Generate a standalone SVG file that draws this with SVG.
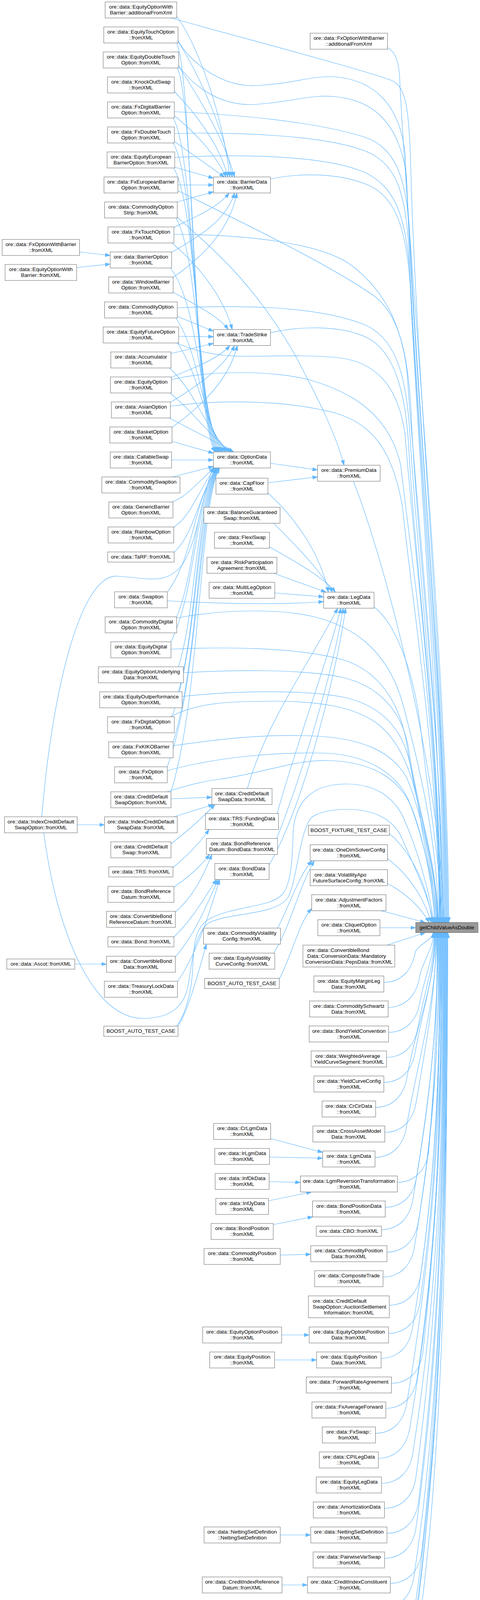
<svg xmlns="http://www.w3.org/2000/svg" width="1228" height="4419" viewBox="0 0 1228 4419">
<defs>
<style>
.n rect{fill:#fff;stroke:#666;stroke-width:1}
.m rect{fill:#999;stroke:#666;stroke-width:1}
.n text,.m text{font-family:"Liberation Sans",Arial,Helvetica,sans-serif;font-size:13.33px;fill:#000;text-anchor:middle}
.n text.l{text-anchor:start}
.e path{fill:none;stroke:#63b8ff;stroke-width:1.2;marker-end:url(#ah)}
</style>
<marker id="ah" markerUnits="userSpaceOnUse" markerWidth="14" markerHeight="10" refX="13" refY="5" orient="auto"><path d="M0,0.5 L13,5 L0,9.5 z" fill="#63b8ff" stroke="#63b8ff" stroke-width="1"/></marker>
</defs>
<rect x="0" y="0" width="1228" height="4419" fill="#fff"/>
<g id="edges" class="e">
<path d="M203.5,645 L282,654"/>
<path d="M196,685 L282,676"/>
<path d="M197.5,2111.5 L267.5,2111.5"/>
<path d="M191.5,2468 L272.5,2468"/>
<path d="M107,2091 C130,1800 200,1470 300,1475 C380,1480 430,1500 470,1440 C505,1385 518,1260 546,1196"/>
<path d="M112,2132 C150,2420 250,2607 364,2607 C440,2607 472,2575 482,2520 C490,2470 495,2400 530,2365 C580,2335 700,2345 735,2300 C760,2265 765,2120 800,2090 C830,2074 860,2072 890,2072 C960,2072 1010,2100 1030,2150 C1060,2220 1100,2300 1108,2361.5"/>
<path d="M452,2627 C475,2595 490,2540 493,2480 C496,2410 500,2370 540,2350 C600,2320 690,2322 720,2292 C745,2268 748,2200 750,2130 C755,2050 800,2007 885,2007 C960,2007 1010,2040 1035,2100 C1070,2180 1100,2290 1110,2361.5"/>
<path d="M455.5,2627 C480,2590 505,2500 528,2417"/>
<path d="M452,42 C510,120 570,300 588,453"/>
<path d="M455.5,106 C515,200 575,340 594,453"/>
<path d="M457,170 C510,250 575,360 600,453"/>
<path d="M446,234 C510,300 565,380 583,453"/>
<path d="M446,296 C500,340 555,400 578,453"/>
<path d="M446,362 L574,453"/>
<path d="M447,428 L546,456"/>
<path d="M455,473.5 L546,473.5"/>
<path d="M453.5,517 L546,491"/>
<path d="M445,582 C500,555 560,530 586,494"/>
<path d="M439,646 C520,600 580,560 600,494"/>
<path d="M443,710 C530,650 590,580 606,494"/>
<path d="M440,622 C520,690 575,770 594,843.5"/>
<path d="M443,748 C500,780 560,810 584,843.5"/>
<path d="M453.5,810 L546,848"/>
<path d="M457,861 L546,862"/>
<path d="M437.5,905 L546,879"/>
<path d="M438.5,966 C500,940 560,918 588,884.5"/>
<path d="M436,1030 C520,980 580,930 600,884.5"/>
<path d="M440,1094 C530,1030 590,960 607,884.5"/>
<path d="M452,110 C495,210 490,1050 550,1157"/>
<path d="M454,174 C498,274 493,1052 553,1157"/>
<path d="M443,302 C501,402 496,1054 556,1157"/>
<path d="M443,366 C504,466 499,1056 559,1157"/>
<path d="M444,430 C507,530 502,1058 562,1157"/>
<path d="M450,558 C510,658 505,1060 566,1157"/>
<path d="M436,686 C513,786 508,1064 570,1157"/>
<path d="M450,814 C516,914 511,1068 575,1157"/>
<path d="M454,878 C519,978 515,1075 580,1157"/>
<path d="M434,942 C505,1010 520,1090 586,1157"/>
<path d="M435,1006 C500,1060 530,1110 592,1157"/>
<path d="M433,1070 C490,1100 540,1125 598,1157"/>
<path d="M440,1130 L546,1160"/>
<path d="M439,1177.5 L546,1177.5"/>
<path d="M441,1221 L546,1194"/>
<path d="M440,1285 C480,1270 500,1240 548,1198"/>
<path d="M444,1350 C490,1320 505,1260 550,1198"/>
<path d="M445,1414 C495,1370 505,1280 552,1198"/>
<path d="M428,1516 C498,1420 493,1290 554,1198"/>
<path d="M452,1579 C500,1465 495,1290 555,1198"/>
<path d="M437.5,1643 C502,1509 497,1290 556,1198"/>
<path d="M456.5,1707 C504,1554 499,1290 557,1198"/>
<path d="M456.5,1771 C506,1599 501,1290 558,1198"/>
<path d="M440,1835 C508,1644 503,1290 559,1198"/>
<path d="M443,1899 C510,1689 505,1290 560,1198"/>
<path d="M428,1963 C512,1733 507,1290 561,1198"/>
<path d="M437.5,2027 C514,1778 509,1290 562,1198"/>
<path d="M692,1186 L812.5,1203"/>
<path d="M685.5,1236 L812.5,1221"/>
<path d="M453.5,556 C560,650 650,730 750,900 C820,1030 862,1120 880,1191"/>
<path d="M685.5,1262 C760,1330 820,1420 840,1516"/>
<path d="M700,1339.5 C760,1400 820,1460 850,1516"/>
<path d="M689.5,1400 C760,1440 830,1480 858,1516"/>
<path d="M700,1467.5 L834,1516"/>
<path d="M703,1518 L828,1528"/>
<path d="M428,1538 C600,1548 750,1547 828,1540"/>
<path d="M633,2018.5 C680,1850 790,1700 864,1557"/>
<path d="M709,2082.5 C760,1900 835,1700 872,1557"/>
<path d="M708,2146.5 C785,1950 855,1700 878,1557"/>
<path d="M688.5,2214 C780,2060 865,1700 884,1557"/>
<path d="M437.5,2045 L542,2041"/>
<path d="M445,2091 L546,2059.5"/>
<path d="M437.5,2160 C490,2120 520,2090 550,2059.5"/>
<path d="M442.5,2221 C480,2190 510,2160 535,2123.5"/>
<path d="M445,2271 C490,2240 518,2212 536,2187.5"/>
<path d="M448.5,2335 C500,2290 525,2230 542,2187.5"/>
<path d="M445,2399 C495,2350 528,2290 554,2251.5"/>
<path d="M448.5,2450 C500,2390 532,2310 558,2251.5"/>
<path d="M454,2513 C505,2440 538,2330 562,2251.5"/>
<path d="M710,2376 C740,2320 765,2240 798,2203.5"/>
<path d="M700,2440 C740,2380 765,2270 804,2203.5"/>
<path d="M714.5,2506 C745,2450 765,2360 797.5,2326"/>
<path d="M692.5,2915 L825.5,2950"/>
<path d="M689.5,2962 L825.5,2965"/>
<path d="M688.5,3025 L768.5,3027"/>
<path d="M687,3074 L797,3051.5"/>
<path d="M699,3135 L800,3115"/>
<path d="M717,3213 L795,3211"/>
<path d="M720.5,3417.5 L791,3417.5"/>
<path d="M702.5,3481.5 L810,3481.5"/>
<path d="M717,3929.5 L795,3929.5"/>
<path d="M721.5,4057.5 L786.5,4057.5"/>
<path d="M438,46 C600,92 900,170 1000,205 C1035,220 1045,260 1050,400 C1065,1000 1144,1800 1146,2361.5"/>
<path d="M991.5,122 C1008,130 1018,150 1022,190 C1040,600 1146,1700 1148,2361.5"/>
<path d="M455.5,104 C480,150 560,225 658,219 C760,213 800,192 861,197 C960,207 1025,270 1037,400 C1060,1000 1142,1800 1144,2361.5"/>
<path d="M457,168 C490,215 560,275 658,267 C760,259 800,240 861,248 C960,258 1022,320 1040,450 C1062,1000 1140,1800 1142,2361.5"/>
<path d="M446,286 C600,293 800,310 930,350 C1010,376 1040,450 1048,600 C1066,1000 1138,1800 1140,2361.5"/>
<path d="M446,342 C600,338 820,345 930,385 C1008,414 1038,480 1046,640 C1064,1050 1136,1800 1138,2361.5"/>
<path d="M447,403 C600,395 820,395 930,440 C1015,478 1040,560 1050,720 C1066,1100 1134,1850 1136,2361.5"/>
<path d="M455,488 C600,560 850,680 960,760 C1025,810 1045,920 1052,1060 C1066,1400 1132,1900 1134,2361.5"/>
<path d="M445,600 C620,600 820,620 900,680 C975,738 1028,820 1042,960 C1060,1250 1130,1850 1132,2361.5"/>
<path d="M692,458 C760,444 860,440 940,473 C1010,502 1040,580 1050,740 C1065,1100 1128,1850 1130,2361.5"/>
<path d="M453.5,788 C600,782 800,780 930,830 C1008,862 1038,950 1048,1100 C1064,1400 1126,1900 1128,2361.5"/>
<path d="M692,852 C760,836 870,830 940,865 C1008,900 1038,1000 1046,1150 C1062,1450 1125,1900 1127,2361.5"/>
<path d="M452,878 C500,900 560,912 626,912 C720,912 780,908 860,915 C960,925 1018,985 1036,1110 C1058,1400 1124,1900 1126,2361.5"/>
<path d="M438.5,972 C520,950 700,945 800,975 C900,1005 995,1060 1025,1190 C1055,1450 1123,1900 1125,2361.5"/>
<path d="M436,1040 C540,1025 720,1020 860,1058 C950,1085 1005,1150 1030,1300 C1055,1550 1122,1950 1124,2361.5"/>
<path d="M452,1582 C560,1562 700,1556 800,1578 C900,1602 990,1660 1030,1800 C1070,1950 1120,2150 1122,2361.5"/>
<path d="M437.5,1662 C560,1656 760,1655 880,1690 C970,1718 1022,1800 1040,1900 C1062,2050 1119,2200 1121,2361.5"/>
<path d="M469.5,1722 C600,1715 780,1712 880,1735 C970,1758 1030,1820 1046,1920 C1068,2070 1118,2220 1120,2361.5"/>
<path d="M466,1783 C600,1768 780,1765 880,1785 C970,1805 1030,1860 1050,1960 C1072,2090 1117,2230 1119,2361.5"/>
<path d="M436,1835 C500,1800 580,1795 700,1795 C820,1795 905,1810 962,1850 C1030,1900 1062,2000 1076,2100 C1090,2200 1116,2280 1118,2361.5"/>
<path d="M443,1909 C600,1886 700,1880 800,1884 C920,1889 1000,1920 1040,1990 C1078,2075 1112,2250 1116,2361.5"/>
<path d="M428,1973 C560,1936 720,1925 830,1928 C940,1932 1020,1980 1050,2060 C1083,2150 1110,2260 1114,2361.5"/>
<path d="M427,2027 C480,2010 520,2000 560,1995 C680,1978 750,1945 840,1947 C960,1950 1030,2000 1058,2080 C1088,2165 1108,2270 1112,2361.5"/>
<path d="M904,1232 C990,1450 1130,2000 1135,2361.5"/>
<path d="M957,1554 C1005,1590 1058,1700 1078,1880 C1098,2060 1128,2220 1131,2361.5"/>
<path d="M996,2134 C1040,2170 1092,2250 1106,2361.5"/>
<path d="M991.5,2198 C1040,2235 1085,2295 1103,2361.5"/>
<path d="M991.5,2262 C1035,2285 1075,2320 1098,2361.5"/>
<path d="M975,2331.5 L1088,2361.5"/>
<path d="M972,2375 L1063.5,2375"/>
<path d="M990,2419.5 L1088,2387.5"/>
<path d="M982,2515 C1027,2514 1054,2484 1062,2439 C1065,2421 1108,2405.5 1108,2387.5"/>
<path d="M993,2579 C1038,2578 1065,2548 1073,2503 C1079.9,2462.6 1109.3,2427.9 1109.3,2387.5"/>
<path d="M994,2643 C1039,2642 1066,2612 1074,2567 C1084.7,2504.2 1110.6,2450.3 1110.6,2387.5"/>
<path d="M989,2707 C1034,2706 1061,2676 1069,2631 C1083.5,2545.8 1111.9,2472.7 1111.9,2387.5"/>
<path d="M982,2771 C1027,2770 1054,2740 1062,2695 C1080.3,2587.4 1113.2,2495.1 1113.2,2387.5"/>
<path d="M961,2835 C1006,2834 1033,2804 1041,2759 C1063.1,2629 1114.5,2517.5 1114.5,2387.5"/>
<path d="M984.5,2899 C1029.5,2898 1056.5,2868 1064.5,2823 C1090.4,2670.6 1115.8,2539.9 1115.8,2387.5"/>
<path d="M959.5,2963 C1004.5,2962 1031.5,2932 1039.5,2887 C1069.2,2712.2 1117.1,2562.3 1117.1,2387.5"/>
<path d="M1016.5,3027 C1061.5,3026 1088.5,2996 1096.5,2951 C1113.4,2753.8 1118.4,2584.7 1118.4,2387.5"/>
<path d="M985.5,3091 C1030.5,3090 1057.5,3060 1065.5,3015 C1102.8,2795.4 1119.7,2607.1 1119.7,2387.5"/>
<path d="M976,3148 C1021,3147 1048,3117 1056,3072 C1096.7,2832.4 1121,2627.1 1121,2387.5"/>
<path d="M990,3205.5 C1035,3204.5 1062,3174.5 1070,3129.5 C1114.1,2869.8 1122.3,2647.2 1122.3,2387.5"/>
<path d="M980,3269.5 C1025,3268.5 1052,3238.5 1060,3193.5 C1108,2911.4 1123.6,2669.6 1123.6,2387.5"/>
<path d="M996,3341.5 C1041,3340.5 1068,3310.5 1076,3265.5 C1119.9,2958.2 1124.9,2694.8 1124.9,2387.5"/>
<path d="M994,3413.5 C1039,3412.5 1066,3382.5 1074,3337.5 C1121.2,3005 1126.2,2720 1126.2,2387.5"/>
<path d="M975,3477.5 C1020,3476.5 1047,3446.5 1055,3401.5 C1115.3,3046.6 1127.5,2742.4 1127.5,2387.5"/>
<path d="M1001.5,3541.5 C1046.5,3540.5 1073.5,3510.5 1081.5,3465.5 C1123.8,3088.2 1128.8,2764.8 1128.8,2387.5"/>
<path d="M987,3605.5 C1032,3604.5 1059,3574.5 1067,3529.5 C1125.1,3129.8 1130.1,2787.2 1130.1,2387.5"/>
<path d="M960.5,3669.5 C1005.5,3668.5 1032.5,3638.5 1040.5,3593.5 C1112.3,3171.4 1131.4,2809.6 1131.4,2387.5"/>
<path d="M968,3733.5 C1013,3732.5 1040,3702.5 1048,3657.5 C1123.6,3213 1132.7,2832 1132.7,2387.5"/>
<path d="M976,3797.5 C1021,3796.5 1048,3766.5 1056,3721.5 C1129,3254.6 1134,2854.4 1134,2387.5"/>
<path d="M983.5,3861.5 C1028.5,3860.5 1055.5,3830.5 1063.5,3785.5 C1130.3,3296.2 1135.3,2876.8 1135.3,2387.5"/>
<path d="M990,3925.5 C1035,3924.5 1062,3894.5 1070,3849.5 C1131.6,3349.5 1136.6,2899.2 1136.6,2387.5"/>
<path d="M984,3989.5 C1029,3988.5 1056,3958.5 1064,3913.5 C1132.9,3413.5 1137.9,2921.6 1137.9,2387.5"/>
<path d="M998.5,4053.5 C1043.5,4052.5 1070.5,4022.5 1078.5,3977.5 C1134.2,3477.5 1139.2,2944 1139.2,2387.5"/>
<path d="M978,4117.5 C1023,4116.5 1050,4086.5 1058,4041.5 C1135.5,3541.5 1140.5,2966.4 1140.5,2387.5"/>
<path d="M986,4189.5 C1031,4188.5 1058,4158.5 1066,4113.5 C1136.8,3613.5 1141.8,2991.6 1141.8,2387.5"/>
<path d="M970,4261.5 C1015,4260.5 1042,4230.5 1050,4185.5 C1135,3685.5 1143.1,3016.8 1143.1,2387.5"/>
<path d="M979,4325.5 C1024,4324.5 1051,4294.5 1059,4249.5 C1139.4,3749.5 1144.4,3039.2 1144.4,2387.5"/>
<path d="M959.5,4389.5 C1004.5,4388.5 1031.5,4358.5 1039.5,4313.5 C1124.5,3813.5 1145.7,3061.6 1145.7,2387.5"/>
</g>
<g id="n_main" class="m"><rect x="1063.5" y="2361.5" width="159.5" height="26"/><text x="1143.25" y="2378.8">getChildValueAsDouble</text></g>
<g id="n1" class="n"><rect x="269" y="5" width="183" height="41"/><text x="360.5" y="22.3">ore::data::EquityOptionWith</text><text x="360.5" y="37.3">Barrier::additionalFromXml</text></g>
<g id="n2" class="n"><rect x="265.5" y="69" width="190" height="41"/><text x="360.5" y="86.3">ore::data::EquityTouchOption</text><text x="360.5" y="101.3">::fromXML</text></g>
<g id="n3" class="n"><rect x="264" y="133" width="193" height="41"/><text x="360.5" y="150.3">ore::data::EquityDoubleTouch</text><text x="360.5" y="165.3">Option::fromXML</text></g>
<g id="n4" class="n"><rect x="275" y="197" width="171" height="41"/><text x="360.5" y="214.3">ore::data::KnockOutSwap</text><text x="360.5" y="229.3">::fromXML</text></g>
<g id="n5" class="n"><rect x="275" y="261" width="171" height="41"/><text x="360.5" y="278.3">ore::data::FxDigitalBarrier</text><text x="360.5" y="293.3">Option::fromXML</text></g>
<g id="n6" class="n"><rect x="275" y="325" width="171" height="41"/><text x="360.5" y="342.3">ore::data::FxDoubleTouch</text><text x="360.5" y="357.3">Option::fromXML</text></g>
<g id="n7" class="n"><rect x="793.5" y="85" width="198" height="41"/><text x="892.5" y="102.3">ore::data::FxOptionWithBarrier</text><text x="892.5" y="117.3">::additionalFromXml</text></g>
<g id="n8" class="n"><rect x="274" y="389" width="173" height="41"/><text x="360.5" y="406.3">ore::data::EquityEuropean</text><text x="360.5" y="421.3">BarrierOption::fromXML</text></g>
<g id="n9" class="n"><rect x="266" y="453" width="189" height="41"/><text x="360.5" y="470.3">ore::data::FxEuropeanBarrier</text><text x="360.5" y="485.3">Option::fromXML</text></g>
<g id="n10" class="n"><rect x="267.5" y="517" width="186" height="41"/><text x="360.5" y="534.3">ore::data::CommodityOption</text><text x="360.5" y="549.3">Strip::fromXML</text></g>
<g id="n11" class="n"><rect x="276" y="581" width="169" height="41"/><text x="360.5" y="598.3">ore::data::FxTouchOption</text><text x="360.5" y="613.3">::fromXML</text></g>
<g id="n12" class="n"><rect x="282" y="645" width="157" height="41"/><text x="360.5" y="662.3">ore::data::BarrierOption</text><text x="360.5" y="677.3">::fromXML</text></g>
<g id="n13" class="n"><rect x="546" y="453" width="146" height="41"/><text x="619" y="470.3">ore::data::BarrierData</text><text x="619" y="485.3">::fromXML</text></g>
<g id="n14" class="n"><rect x="5.5" y="613" width="198" height="41"/><text x="104.5" y="630.3">ore::data::FxOptionWithBarrier</text><text x="104.5" y="645.3">::fromXML</text></g>
<g id="n15" class="n"><rect x="13" y="677" width="183" height="41"/><text x="104.5" y="694.3">ore::data::EquityOptionWith</text><text x="104.5" y="709.3">Barrier::fromXML</text></g>
<g id="n16" class="n"><rect x="278" y="709" width="165" height="41"/><text x="360.5" y="726.3">ore::data::WindowBarrier</text><text x="360.5" y="741.3">Option::fromXML</text></g>
<g id="n17" class="n"><rect x="267.5" y="773" width="186" height="41"/><text x="360.5" y="790.3">ore::data::CommodityOption</text><text x="360.5" y="805.3">::fromXML</text></g>
<g id="n18" class="n"><rect x="264" y="837" width="193" height="41"/><text x="360.5" y="854.3">ore::data::EquityFutureOption</text><text x="360.5" y="869.3">::fromXML</text></g>
<g id="n19" class="n"><rect x="283.5" y="901" width="154" height="41"/><text x="360.5" y="918.3">ore::data::Accumulator</text><text x="360.5" y="933.3">::fromXML</text></g>
<g id="n20" class="n"><rect x="282.5" y="965" width="156" height="41"/><text x="360.5" y="982.3">ore::data::EquityOption</text><text x="360.5" y="997.3">::fromXML</text></g>
<g id="n21" class="n"><rect x="285" y="1029" width="151" height="41"/><text x="360.5" y="1046.3">ore::data::AsianOption</text><text x="360.5" y="1061.3">::fromXML</text></g>
<g id="n22" class="n"><rect x="546" y="843.5" width="146" height="41"/><text x="619" y="860.8">ore::data::TradeStrike</text><text x="619" y="875.8">::fromXML</text></g>
<g id="n23" class="n"><rect x="281" y="1093" width="159" height="41"/><text x="360.5" y="1110.3">ore::data::BasketOption</text><text x="360.5" y="1125.3">::fromXML</text></g>
<g id="n24" class="n"><rect x="282" y="1157" width="157" height="41"/><text x="360.5" y="1174.3">ore::data::CallableSwap</text><text x="360.5" y="1189.3">::fromXML</text></g>
<g id="n25" class="n"><rect x="260.5" y="1221" width="200" height="41"/><text x="360.5" y="1238.3">ore::data::CommoditySwaption</text><text x="360.5" y="1253.3">::fromXML</text></g>
<g id="n26" class="n"><rect x="278.5" y="1285" width="164" height="41"/><text x="360.5" y="1302.3">ore::data::GenericBarrier</text><text x="360.5" y="1317.3">Option::fromXML</text></g>
<g id="n27" class="n"><rect x="276.5" y="1349" width="168" height="41"/><text x="360.5" y="1366.3">ore::data::RainbowOption</text><text x="360.5" y="1381.3">::fromXML</text></g>
<g id="n28" class="n"><rect x="275.5" y="1413" width="170" height="26"/><text x="360.5" y="1430.3">ore::data::TaRF::fromXML</text></g>
<g id="n29" class="n"><rect x="546" y="1157" width="146" height="41"/><text x="619" y="1174.3">ore::data::OptionData</text><text x="619" y="1189.3">::fromXML</text></g>
<g id="n30" class="n"><rect x="812.5" y="1191" width="160" height="41"/><text x="892.5" y="1208.3">ore::data::PremiumData</text><text x="892.5" y="1223.3">::fromXML</text></g>
<g id="n31" class="n"><rect x="552.5" y="1224" width="133" height="41"/><text x="619" y="1241.3">ore::data::CapFloor</text><text x="619" y="1256.3">::fromXML</text></g>
<g id="n32" class="n"><rect x="521.5" y="1298.5" width="195" height="41"/><text x="619" y="1315.8">ore::data::BalanceGuaranteed</text><text x="619" y="1330.8">Swap::fromXML</text></g>
<g id="n33" class="n"><rect x="548.5" y="1362.5" width="141" height="41"/><text x="619" y="1379.8">ore::data::FlexiSwap</text><text x="619" y="1394.8">::fromXML</text></g>
<g id="n34" class="n"><rect x="529.5" y="1426.5" width="179" height="41"/><text x="619" y="1443.8">ore::data::RiskParticipation</text><text x="619" y="1458.8">Agreement::fromXML</text></g>
<g id="n35" class="n"><rect x="535" y="1490.5" width="168" height="41"/><text x="619" y="1507.8">ore::data::MultiLegOption</text><text x="619" y="1522.8">::fromXML</text></g>
<g id="n36" class="n"><rect x="293" y="1515" width="135" height="41"/><text x="360.5" y="1532.3">ore::data::Swaption</text><text x="360.5" y="1547.3">::fromXML</text></g>
<g id="n37" class="n"><rect x="269" y="1579" width="183" height="41"/><text x="360.5" y="1596.3">ore::data::CommodityDigital</text><text x="360.5" y="1611.3">Option::fromXML</text></g>
<g id="n38" class="n"><rect x="283.5" y="1643" width="154" height="41"/><text x="360.5" y="1660.3">ore::data::EquityDigital</text><text x="360.5" y="1675.3">Option::fromXML</text></g>
<g id="n39" class="n"><rect x="251.5" y="1707" width="218" height="41"/><text x="360.5" y="1724.3">ore::data::EquityOptionUnderlying</text><text x="360.5" y="1739.3">Data::fromXML</text></g>
<g id="n40" class="n"><rect x="255" y="1771" width="211" height="41"/><text x="360.5" y="1788.3">ore::data::EquityOutperformance</text><text x="360.5" y="1803.3">Option::fromXML</text></g>
<g id="n41" class="n"><rect x="828" y="1516" width="129" height="41"/><text x="892.5" y="1533.3">ore::data::LegData</text><text x="892.5" y="1548.3">::fromXML</text></g>
<g id="n42" class="n"><rect x="275" y="1835" width="171" height="41"/><text x="360.5" y="1852.3">ore::data::FxDigitalOption</text><text x="360.5" y="1867.3">::fromXML</text></g>
<g id="n43" class="n"><rect x="278" y="1899" width="165" height="41"/><text x="360.5" y="1916.3">ore::data::FxKIKOBarrier</text><text x="360.5" y="1931.3">Option::fromXML</text></g>
<g id="n44" class="n"><rect x="293" y="1963" width="135" height="41"/><text x="360.5" y="1980.3">ore::data::FxOption</text><text x="360.5" y="1995.3">::fromXML</text></g>
<g id="n45" class="n"><rect x="283.5" y="2027" width="154" height="41"/><text x="360.5" y="2044.3">ore::data::CreditDefault</text><text x="360.5" y="2059.3">SwapOption::fromXML</text></g>
<g id="n46" class="n"><rect x="267.5" y="2091" width="186" height="41"/><text x="360.5" y="2108.3">ore::data::IndexCreditDefault</text><text x="360.5" y="2123.3">SwapData::fromXML</text></g>
<g id="n47" class="n"><rect x="283.5" y="2155" width="154" height="41"/><text x="360.5" y="2172.3">ore::data::CreditDefault</text><text x="360.5" y="2187.3">Swap::fromXML</text></g>
<g id="n48" class="n"><rect x="11.5" y="2091" width="186" height="41"/><text x="104.5" y="2108.3">ore::data::IndexCreditDefault</text><text x="104.5" y="2123.3">SwapOption::fromXML</text></g>
<g id="n49" class="n"><rect x="542" y="2018.5" width="154" height="41"/><text x="619" y="2035.8">ore::data::CreditDefault</text><text x="619" y="2050.8">SwapData::fromXML</text></g>
<g id="n50" class="n"><rect x="525.5" y="2082.5" width="187" height="41"/><text x="619" y="2099.8">ore::data::TRS::FundingData</text><text x="619" y="2114.8">::fromXML</text></g>
<g id="n51" class="n"><rect x="528" y="2146.5" width="182" height="41"/><text class="l" x="539" y="2163.8">ore::data::BondReference</text><text x="619" y="2178.8">Datum::BondData::fromXML</text></g>
<g id="n52" class="n"><rect x="789" y="2112.5" width="207" height="26"/><text x="892.5" y="2129.8">BOOST_FIXTURE_TEST_CASE</text></g>
<g id="n53" class="n"><rect x="793.5" y="2162.5" width="198" height="41"/><text x="892.5" y="2179.8">ore::data::OneDimSolverConfig</text><text x="892.5" y="2194.8">::fromXML</text></g>
<g id="n54" class="n"><rect x="278.5" y="2219" width="164" height="26"/><text x="360.5" y="2236.3">ore::data::TRS::fromXML</text></g>
<g id="n55" class="n"><rect x="276" y="2269" width="169" height="41"/><text x="360.5" y="2286.3">ore::data::BondReference</text><text x="360.5" y="2301.3">Datum::fromXML</text></g>
<g id="n56" class="n"><rect x="272.5" y="2333" width="176" height="41"/><text x="360.5" y="2350.3">ore::data::ConvertibleBond</text><text x="360.5" y="2365.3">ReferenceDatum::fromXML</text></g>
<g id="n57" class="n"><rect x="276" y="2398" width="169" height="26"/><text x="360.5" y="2415.3">ore::data::Bond::fromXML</text></g>
<g id="n58" class="n"><rect x="272.5" y="2448" width="176" height="41"/><text x="360.5" y="2465.3">ore::data::ConvertibleBond</text><text x="360.5" y="2480.3">Data::fromXML</text></g>
<g id="n59" class="n"><rect x="267" y="2512" width="187" height="41"/><text x="360.5" y="2529.3">ore::data::TreasuryLockData</text><text x="360.5" y="2544.3">::fromXML</text></g>
<g id="n60" class="n"><rect x="17.5" y="2455" width="174" height="26"/><text x="104.5" y="2472.3">ore::data::Ascot::fromXML</text></g>
<g id="n61" class="n"><rect x="549.5" y="2210.5" width="139" height="41"/><text x="619" y="2227.8">ore::data::BondData</text><text x="619" y="2242.8">::fromXML</text></g>
<g id="n62" class="n"><rect x="520.5" y="2376" width="197" height="41"/><text x="619" y="2393.3">ore::data::CommodityVolatility</text><text x="619" y="2408.3">Config::fromXML</text></g>
<g id="n63" class="n"><rect x="535" y="2440" width="168" height="41"/><text x="619" y="2457.3">ore::data::EquityVolatility</text><text x="619" y="2472.3">CurveConfig::fromXML</text></g>
<g id="n64" class="n"><rect x="523.5" y="2504.5" width="191" height="26"/><text x="619" y="2521.8">BOOST_AUTO_TEST_CASE</text></g>
<g id="n64b" class="n"><rect x="265.5" y="2627" width="190" height="26"/><text x="360.5" y="2644.3">BOOST_AUTO_TEST_CASE</text></g>
<g id="n65" class="n"><rect x="793.5" y="2226.5" width="198" height="41"/><text class="l" x="804.5" y="2243.8">ore::data::VolatilityApo</text><text x="892.5" y="2258.8">FutureSurfaceConfig::fromXML</text></g>
<g id="n66" class="n"><rect x="797.5" y="2290.5" width="190" height="41"/><text x="892.5" y="2307.8">ore::data::AdjustmentFactors</text><text x="892.5" y="2322.8">::fromXML</text></g>
<g id="n67" class="n"><rect x="813" y="2354.5" width="159" height="41"/><text x="892.5" y="2371.8">ore::data::CliquetOption</text><text x="892.5" y="2386.8">::fromXML</text></g>
<g id="n69" class="n"><rect x="775" y="2419.5" width="235" height="56"/><text class="l" x="786" y="2436.8">ore::data::ConvertibleBond</text><text class="l" x="786" y="2451.8">Data::ConversionData::Mandatory</text><text x="892.5" y="2466.8">ConversionData::PepsData::fromXML</text></g>
<g id="n70" class="n"><rect x="803" y="2498.5" width="179" height="41"/><text x="892.5" y="2515.8">ore::data::EquityMarginLeg</text><text x="892.5" y="2530.8">Data::fromXML</text></g>
<g id="n71" class="n"><rect x="792" y="2562.5" width="201" height="41"/><text x="892.5" y="2579.8">ore::data::CommoditySchwartz</text><text x="892.5" y="2594.8">Data::fromXML</text></g>
<g id="n72" class="n"><rect x="791" y="2626.5" width="203" height="41"/><text x="892.5" y="2643.8">ore::data::BondYieldConvention</text><text x="892.5" y="2658.8">::fromXML</text></g>
<g id="n73" class="n"><rect x="796" y="2690.5" width="193" height="41"/><text class="l" x="807" y="2707.8">ore::data::WeightedAverage</text><text x="892.5" y="2722.8">YieldCurveSegment::fromXML</text></g>
<g id="n74" class="n"><rect x="803" y="2754.5" width="179" height="41"/><text x="892.5" y="2771.8">ore::data::YieldCurveConfig</text><text x="892.5" y="2786.8">::fromXML</text></g>
<g id="n75" class="n"><rect x="824" y="2818.5" width="137" height="41"/><text x="892.5" y="2835.8">ore::data::CrCirData</text><text x="892.5" y="2850.8">::fromXML</text></g>
<g id="n76" class="n"><rect x="800.5" y="2882.5" width="184" height="41"/><text x="892.5" y="2899.8">ore::data::CrossAssetModel</text><text x="892.5" y="2914.8">Data::fromXML</text></g>
<g id="n77" class="n"><rect x="546.5" y="2876" width="146" height="41"/><text x="619.5" y="2893.3">ore::data::CrLgmData</text><text x="619.5" y="2908.3">::fromXML</text></g>
<g id="n79" class="n"><rect x="549.5" y="2940" width="140" height="41"/><text x="619.5" y="2957.3">ore::data::IrLgmData</text><text x="619.5" y="2972.3">::fromXML</text></g>
<g id="n80" class="n"><rect x="825.5" y="2946.5" width="134" height="41"/><text x="892.5" y="2963.8">ore::data::LgmData</text><text x="892.5" y="2978.8">::fromXML</text></g>
<g id="n81" class="n"><rect x="550.5" y="3004" width="138" height="41"/><text x="619.5" y="3021.3">ore::data::InfDkData</text><text x="619.5" y="3036.3">::fromXML</text></g>
<g id="n82" class="n"><rect x="768.5" y="3010.5" width="248" height="41"/><text x="892.5" y="3027.8">ore::data::LgmReversionTransformation</text><text x="892.5" y="3042.8">::fromXML</text></g>
<g id="n83" class="n"><rect x="552" y="3068" width="135" height="41"/><text x="619.5" y="3085.3">ore::data::InfJyData</text><text x="619.5" y="3100.3">::fromXML</text></g>
<g id="n84" class="n"><rect x="799.5" y="3074.5" width="186" height="41"/><text x="892.5" y="3091.8">ore::data::BondPositionData</text><text x="892.5" y="3106.8">::fromXML</text></g>
<g id="n85" class="n"><rect x="540" y="3132" width="159" height="41"/><text x="619.5" y="3149.3">ore::data::BondPosition</text><text x="619.5" y="3164.3">::fromXML</text></g>
<g id="n86" class="n"><rect x="809" y="3139" width="167" height="26"/><text x="892.5" y="3156.3">ore::data::CBO::fromXML</text></g>
<g id="n87" class="n"><rect x="522" y="3196" width="195" height="41"/><text x="619.5" y="3213.3">ore::data::CommodityPosition</text><text x="619.5" y="3228.3">::fromXML</text></g>
<g id="n88" class="n"><rect x="795" y="3189" width="195" height="41"/><text x="892.5" y="3206.3">ore::data::CommodityPosition</text><text x="892.5" y="3221.3">Data::fromXML</text></g>
<g id="n89" class="n"><rect x="805" y="3253" width="175" height="41"/><text x="892.5" y="3270.3">ore::data::CompositeTrade</text><text x="892.5" y="3285.3">::fromXML</text></g>
<g id="n90" class="n"><rect x="789" y="3317.5" width="207" height="56"/><text class="l" x="800" y="3334.8">ore::data::CreditDefault</text><text class="l" x="800" y="3349.8">SwapOption::AuctionSettlement</text><text x="892.5" y="3364.8">Information::fromXML</text></g>
<g id="n91" class="n"><rect x="518.5" y="3397" width="202" height="41"/><text x="619.5" y="3414.3">ore::data::EquityOptionPosition</text><text x="619.5" y="3429.3">::fromXML</text></g>
<g id="n92" class="n"><rect x="791" y="3397" width="203" height="41"/><text x="892.5" y="3414.3">ore::data::EquityOptionPosition</text><text x="892.5" y="3429.3">Data::fromXML</text></g>
<g id="n93" class="n"><rect x="536.5" y="3461" width="166" height="41"/><text x="619.5" y="3478.3">ore::data::EquityPosition</text><text x="619.5" y="3493.3">::fromXML</text></g>
<g id="n94" class="n"><rect x="810" y="3461" width="165" height="41"/><text x="892.5" y="3478.3">ore::data::EquityPosition</text><text x="892.5" y="3493.3">Data::fromXML</text></g>
<g id="n95" class="n"><rect x="783.5" y="3525" width="218" height="41"/><text x="892.5" y="3542.3">ore::data::ForwardRateAgreement</text><text x="892.5" y="3557.3">::fromXML</text></g>
<g id="n96" class="n"><rect x="798" y="3589" width="189" height="41"/><text x="892.5" y="3606.3">ore::data::FxAverageForward</text><text x="892.5" y="3621.3">::fromXML</text></g>
<g id="n97" class="n"><rect x="824.5" y="3653" width="136" height="41"/><text x="892.5" y="3670.3">ore::data::FxSwap::</text><text x="892.5" y="3685.3">fromXML</text></g>
<g id="n98" class="n"><rect x="817" y="3717" width="151" height="41"/><text x="892.5" y="3734.3">ore::data::CPILegData</text><text x="892.5" y="3749.3">::fromXML</text></g>
<g id="n99" class="n"><rect x="809" y="3781" width="167" height="41"/><text x="892.5" y="3798.3">ore::data::EquityLegData</text><text x="892.5" y="3813.3">::fromXML</text></g>
<g id="n100" class="n"><rect x="801.5" y="3845" width="182" height="41"/><text x="892.5" y="3862.3">ore::data::AmortizationData</text><text x="892.5" y="3877.3">::fromXML</text></g>
<g id="n101" class="n"><rect x="522" y="3909" width="195" height="41"/><text x="619.5" y="3926.3">ore::data::NettingSetDefinition</text><text x="619.5" y="3941.3">::NettingSetDefinition</text></g>
<g id="n102" class="n"><rect x="795" y="3909" width="195" height="41"/><text x="892.5" y="3926.3">ore::data::NettingSetDefinition</text><text x="892.5" y="3941.3">::fromXML</text></g>
<g id="n103" class="n"><rect x="801" y="3973" width="183" height="41"/><text x="892.5" y="3990.3">ore::data::PairwiseVarSwap</text><text x="892.5" y="4005.3">::fromXML</text></g>
<g id="n104" class="n"><rect x="517.5" y="4037" width="204" height="41"/><text x="619.5" y="4054.3">ore::data::CreditIndexReference</text><text x="619.5" y="4069.3">Datum::fromXML</text></g>
<g id="n105" class="n"><rect x="786.5" y="4037" width="212" height="41"/><text x="892.5" y="4054.3">ore::data::CreditIndexConstituent</text><text x="892.5" y="4069.3">::fromXML</text></g>
<g id="n106" class="n"><rect x="807" y="4101" width="171" height="41"/><text x="892.5" y="4118.3">ore::data::IndexReference</text><text x="892.5" y="4133.3">Datum::fromXML</text></g>
<g id="n107" class="n"><rect x="799" y="4165.5" width="187" height="56"/><text class="l" x="810" y="4182.8">ore::data::CurrencyHedged</text><text class="l" x="810" y="4197.8">EquityIndexReferenceDatum</text><text x="892.5" y="4212.8">::fromXML</text></g>
<g id="n108" class="n"><rect x="815" y="4245" width="155" height="41"/><text x="892.5" y="4262.3">ore::data::TrancheData</text><text x="892.5" y="4277.3">::fromXML</text></g>
<g id="n109" class="n"><rect x="806" y="4309" width="173" height="41"/><text x="892.5" y="4326.3">ore::data::BondUnderlying</text><text x="892.5" y="4341.3">::fromXML</text></g>
<g id="n110" class="n"><rect x="825.5" y="4373" width="134" height="41"/><text x="892.5" y="4390.3">ore::data::VarSwap</text><text x="892.5" y="4405.3">::fromXML</text></g>
</svg>
